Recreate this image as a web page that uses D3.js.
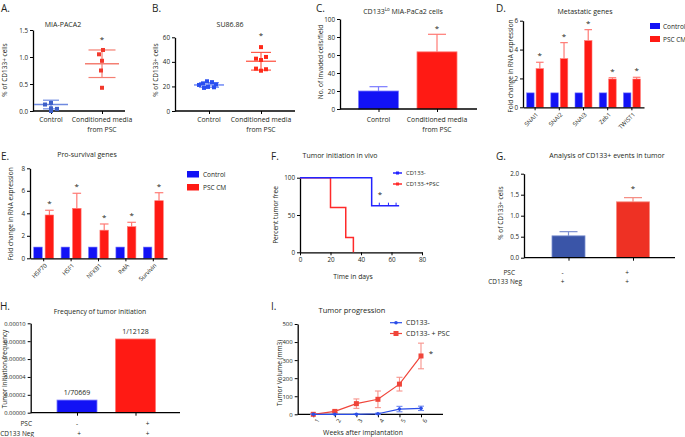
<!DOCTYPE html>
<html><head><meta charset="utf-8">
<script src="https://cdn.jsdelivr.net/npm/d3@7"></script>
<style>body{margin:0;background:#fff}svg text{font-family:'Open Sans',sans-serif}</style>
</head><body><svg id="c" width="685" height="437"></svg>
<script>
// ---------------- DATA ----------------
const scatterGroups = ["Control", "Conditioned media|from PSC"];
const miaControl = [0.15, 0.12, 0.05, 0.04, 0.0];
const miaCM = [1.13, 1.05, 0.93, 0.75, 0.43];
const miaMean = [0.12, 0.875];
const miaSD = [0.08, 0.255];
const miaTicks = [0, 0.5, 1.0, 1.5];
const suControl = [24.2, 23.5, 22.5, 21.6, 21.2, 19.6, 19.3, 18.8];
const suCM = [52, 44, 42.6, 41.5, 34.5, 34, 32.8];
const suMean = [21.2, 40.5];
const suSD = [1.8, 7.2];
const suTicks = [0, 20, 40, 60];
const invGroups = ["Control", "Conditioned media|from PSC"];
const invMean = [20, 63.5];
const invErr = [4.8, 19.5];
const invTicks = [0, 20, 40, 60, 80, 100];
const metaGenes = ["SNAI1", "SNAI2", "SNAI3", "Zeb1", "TWIST1"];
const metaControl = [1, 1, 1, 1, 1];
const metaPSC = [2.68, 3.37, 4.62, 1.96, 1.96];
const metaPSCErr = [0.44, 1.11, 0.76, 0.09, 0.12];
const foldTicksD = [0, 2, 4, 6];
const survGenes = ["HSP70", "HSF1", "NFKB1", "RelA", "Survivin"];
const survControl = [1, 1, 1, 1, 1];
const survPSC = [3.85, 4.44, 2.5, 2.81, 5.12];
const survPSCErr = [0.42, 1.34, 0.55, 0.39, 0.71];
const foldTicksE = [0, 2, 4, 6, 8];
const seriesNames = ["Control", "PSC CM"];
const kmNames = ["CD133-", "CD133-+PSC"];
const kmBlueTimes = [0, 47, 65];
const kmBlueSurv = [100, 62.5, 62.5];
const kmBlueCensor = [52, 58, 63];
const kmRedTimes = [0, 20, 30, 35];
const kmRedSurv = [100, 60, 20, 0];
const kmXTicks = [0, 20, 40, 60, 80];
const kmYTicks = [0, 50, 100];
const gPSC = ["-", "+"];
const gNeg = ["+", "+"];
const gMean = [0.52, 1.33];
const gErr = [0.1, 0.1];
const gTicks = [0, 0.5, 1.0, 1.5, 2.0];
const hPSC = ["-", "+"];
const hNeg = ["+", "+"];
const hLabels = ["1/70669", "1/12128"];
const hValues = [1 / 70669, 1 / 12128];
const hTicks = [0, 0.00002, 0.00004, 0.00006, 0.00008, 0.00010];
const weeks = [1, 2, 3, 4, 5, 6];
const volCD133 = [0, 0, 0, 3, 29, 33];
const volCD133Err = [2, 2, 2, 3, 15, 12];
const volPSC = [0, 16, 59, 83, 167, 323];
const volPSCErr = [5, 6, 26, 46, 38, 71];
const volTicks = [0, 100, 200, 300, 400, 500];
const iNames = ["CD133-", "CD133- + PSC"];

// ---------------- HELPERS ----------------
const svg = d3.select("#c");
const INK = "#231f20";
const BLUE = "#1212f5", RED = "#ff1a14", BLUE_L = "#7b7bff", RED_L = "#ff7a74";
function txt(x, y, s, o = {}) {
  const t = svg.append("text").attr("x", x).attr("y", y).text(s)
    .attr("font-size", o.size || 6.5).attr("text-anchor", o.anchor || "middle")
    .attr("fill", o.fill || INK);
  if (o.rotate) t.attr("transform", `rotate(${o.rotate},${x},${y})`);
  return t;
}
function styleAxis(a, fs) {
  a.select(".domain").attr("stroke", "#000").attr("stroke-width", 1.3);
  a.selectAll(".tick line").attr("stroke", "#000").attr("stroke-width", 1);
  a.selectAll(".tick text").attr("font-size", fs || 6.3).attr("fill", INK).attr("font-family", "'Open Sans',sans-serif");
}
function leftAxis(scale, x, ticks, fmt, fs) {
  const a = svg.append("g").attr("transform", `translate(${x},0)`)
    .call(d3.axisLeft(scale).tickValues(ticks).tickFormat(fmt || d3.format("")).tickSize(3).tickSizeOuter(0).tickPadding(2));
  styleAxis(a, fs);
  return a;
}
function bottomAxis(scale, y, x0, x1) {
  svg.append("line").attr("x1", x0).attr("x2", x1).attr("y1", y).attr("y2", y).attr("stroke", "#000").attr("stroke-width", 1.3);
  const a = svg.append("g").attr("transform", `translate(0,${y})`)
    .call(d3.axisBottom(scale).tickSize(3).tickSizeOuter(0).tickFormat(() => ""));
  styleAxis(a);
  a.select(".domain").remove();
  return a;
}
function panelLetter(x, y, s) { txt(x, y, s, { size: 10, anchor: "start" }); }
function title(x, y, s, size) { return txt(x, y, s, { size: size || 7 }); }
function yLabel(x, y, s, size) { txt(x, y, s, { size: size || 6.5, rotate: -90 }); }
function star(x, y) { txt(x, y, "*", { size: 8 }); }
function twoLine(x, y, s) {
  s.split("|").forEach((p, i) => txt(x, y + i * 10, p, { size: 6.8 }));
}
function errBar(x, yTop, yBase, capW, color, w) {
  svg.append("line").attr("x1", x).attr("x2", x).attr("y1", yTop).attr("y2", yBase).attr("stroke", color).attr("stroke-width", w || 1.2);
  svg.append("line").attr("x1", x - capW / 2).attr("x2", x + capW / 2).attr("y1", yTop).attr("y2", yTop).attr("stroke", color).attr("stroke-width", w || 1.2);
}

// ---------------- A: MIA-PACA2 scatter ----------------
{
  const y = d3.scaleLinear().domain([0, 1.5]).range([111, 30]);
  const x = d3.scalePoint().domain(scatterGroups).range([51, 102]);
  panelLetter(1, 12, "A.");
  title(63, 26.5, "MIA-PACA2");
  yLabel(7, 70, "% of CD133+ cells");
  leftAxis(y, 33, miaTicks, d3.format(".1f"));
  bottomAxis(x, 111, 33, 125);
  scatterGroups.forEach(g => twoLine(x(g), 122, g));
  const jA = [[0, -6, 0, 6, 0], [1, -3, 0, -1, 0]];
  const cols = [["#3e5fc8", "#6f8ae0"], ["#f2392c", "#f47f72"]];
  [miaControl, miaCM].forEach((vals, gi) => {
    const cx = x(scatterGroups[gi]);
    const m = miaMean[gi], s = miaSD[gi];
    const lw = 34, cw = gi ? 27 : 16;
    svg.append("line").attr("x1", cx - lw / 2).attr("x2", cx + lw / 2).attr("y1", y(m)).attr("y2", y(m)).attr("stroke", cols[gi][1]).attr("stroke-width", 1.3);
    svg.append("line").attr("x1", cx).attr("x2", cx).attr("y1", y(m + s)).attr("y2", y(Math.max(0, m - s))).attr("stroke", cols[gi][1]).attr("stroke-width", 1.2);
    [m + s, m - s].forEach(v => svg.append("line").attr("x1", cx - cw / 2).attr("x2", cx + cw / 2).attr("y1", y(v)).attr("y2", y(v)).attr("stroke", cols[gi][1]).attr("stroke-width", 1.2));
    svg.selectAll(null).data(vals).enter().append("rect")
      .attr("x", (d, i) => cx + jA[gi][i] - 2).attr("y", d => y(d) - 2).attr("width", 4).attr("height", 4)
      .attr("fill", cols[gi][0]);
  });
  star(x(scatterGroups[1]), 42);
}

// ---------------- B: SU86.86 scatter ----------------
{
  const y = d3.scaleLinear().domain([0, 60]).range([111, 37.3]);
  const x = d3.scalePoint().domain(scatterGroups).range([209, 261]);
  panelLetter(152, 12, "B.");
  title(230, 26.5, "SU86.86");
  yLabel(158, 70, "% of CD133+ cells");
  leftAxis(y, 175, suTicks, d3.format("d"));
  bottomAxis(x, 111, 175, 295);
  scatterGroups.forEach(g => twoLine(x(g), 122, g));
  const jB = [[-2, 3, -6, 7, -10, -1, 5, -5], [0, 5, -5, 0, -5, 5, 0]];
  const cols = [["#2a4ff0", "#5a78f5"], ["#ff2a1a", "#ff5a4a"]];
  [suControl, suCM].forEach((vals, gi) => {
    const cx = x(scatterGroups[gi]);
    const m = suMean[gi], s = suSD[gi];
    const lw = 30, cw = 20;
    svg.append("line").attr("x1", cx - lw / 2).attr("x2", cx + lw / 2).attr("y1", y(m)).attr("y2", y(m)).attr("stroke", cols[gi][1]).attr("stroke-width", 1.3);
    svg.append("line").attr("x1", cx).attr("x2", cx).attr("y1", y(m + s)).attr("y2", y(m - s)).attr("stroke", cols[gi][1]).attr("stroke-width", 1.2);
    [m + s, m - s].forEach(v => svg.append("line").attr("x1", cx - cw / 2).attr("x2", cx + cw / 2).attr("y1", y(v)).attr("y2", y(v)).attr("stroke", cols[gi][1]).attr("stroke-width", 1.2));
    svg.selectAll(null).data(vals).enter().append("rect")
      .attr("x", (d, i) => cx + jB[gi][i] - 2).attr("y", d => y(d) - 2).attr("width", 4).attr("height", 4)
      .attr("fill", cols[gi][0]);
  });
  star(x(scatterGroups[1]), 38);
}

// ---------------- C: invasion bars ----------------
{
  const y = d3.scaleLinear().domain([0, 100]).range([109, 19]);
  const x = d3.scalePoint().domain(invGroups).range([378.5, 437]);
  panelLetter(316, 12, "C.");
  const t = title(403, 13.5, "CD133");
  t.append("tspan").text("Lo").attr("font-size", 4.5).attr("dy", -2.5);
  t.append("tspan").text(" MIA-PaCa2 cells").attr("dy", 2.5);
  yLabel(323, 62, "No. of invaded cells/field");
  leftAxis(y, 340, invTicks, d3.format("d"));
  const fills = [[BLUE, BLUE_L], [RED, RED_L]];
  invGroups.forEach((g, i) => {
    errBar(x(g), y(invMean[i] + invErr[i]), y(invMean[i]), 18, fills[i][1], 1.2);
    svg.append("rect").attr("x", x(g) - 20).attr("y", y(invMean[i])).attr("width", 40).attr("height", y(0) - y(invMean[i]))
      .attr("fill", fills[i][0]).attr("stroke", fills[i][1]).attr("stroke-width", 0.8);
  });
  bottomAxis(x, 109, 340, 477);
  invGroups.forEach(g => twoLine(x(g), 122, g));
  star(x(invGroups[1]), 31);
}

// ---------------- grouped bar helper ----------------
function groupedBars(cfg) {
  const y = d3.scaleLinear().domain(cfg.domain).range(cfg.yRange);
  const x = d3.scaleBand().domain(cfg.cats).range(cfg.xRange);
  const xs = d3.scaleBand().domain(seriesNames).range(cfg.sub).paddingInner(cfg.pad);
  leftAxis(y, cfg.xRange[0], cfg.ticks, d3.format("d"));
  cfg.cats.forEach((c, i) => {
    const cx = x(c) + x.bandwidth() / 2;
    const top = cfg.psc[i] + cfg.err[i];
    const rx = cx + xs("PSC CM");
    errBar(rx + xs.bandwidth() / 2, y(top), y(cfg.psc[i]), xs.bandwidth(), RED_L, 1.2);
    svg.append("rect").attr("x", cx + xs("Control")).attr("y", y(cfg.ctrl[i])).attr("width", xs.bandwidth()).attr("height", y(0) - y(cfg.ctrl[i]))
      .attr("fill", BLUE).attr("stroke", BLUE_L).attr("stroke-width", 0.6);
    svg.append("rect").attr("x", rx).attr("y", y(cfg.psc[i])).attr("width", xs.bandwidth()).attr("height", y(0) - y(cfg.psc[i]))
      .attr("fill", RED).attr("stroke", RED_L).attr("stroke-width", 0.6);
    star(rx + xs.bandwidth() / 2, y(top) - 4);
  });
  const ax = svg.append("g").attr("transform", `translate(0,${cfg.yRange[0]})`)
    .call(d3.axisBottom(x).tickSize(3).tickSizeOuter(0).tickPadding(2));
  styleAxis(ax, 6);
  ax.select(".domain").attr("stroke-width", 1.3);
  ax.selectAll(".tick text").attr("text-anchor", "end").attr("transform", "translate(-2,2) rotate(-45)").attr("dy", "0.5em");
}

// ---------------- D: Metastatic genes ----------------
panelLetter(496, 12, "D.");
title(585, 13.5, "Metastatic genes");
yLabel(513, 66, "Fold change in RNA expression");
groupedBars({ domain: [0, 6], yRange: [107.3, 20.7], xRange: [523, 644], cats: metaGenes, sub: [-8.5, 8.5], pad: 0.2,
  ticks: foldTicksD, ctrl: metaControl, psc: metaPSC, err: metaPSCErr });
[[BLUE, 23], [RED, 36]].forEach(([c, yy], i) => {
  svg.append("rect").attr("x", 650).attr("y", yy).attr("width", 10).attr("height", 6).attr("fill", c);
  txt(663, yy + 5.5, seriesNames[i], { anchor: "start", size: 6.5 });
});

// ---------------- E: Pro-survival genes ----------------
panelLetter(1, 160, "E.");
title(87, 157, "Pro-survival genes");
yLabel(13, 214, "Fold change in RNA expression");
groupedBars({ domain: [0, 8], yRange: [258.3, 168.3], xRange: [30, 167], cats: survGenes, sub: [-10, 10], pad: 0.25,
  ticks: foldTicksE, ctrl: survControl, psc: survPSC, err: survPSCErr });
[[BLUE, 171], [RED, 184]].forEach(([c, yy], i) => {
  svg.append("rect").attr("x", 187).attr("y", yy).attr("width", 12).attr("height", 6.5).attr("fill", c);
  txt(203, yy + 6, seriesNames[i], { anchor: "start", size: 6.5 });
});

// ---------------- F: Kaplan-Meier ----------------
{
  const x = d3.scaleLinear().domain([0, 80]).range([300, 422]);
  const y = d3.scaleLinear().domain([0, 100]).range([252.3, 177.7]);
  panelLetter(271, 160, "F.");
  title(340, 157.5, "Tumor initiation in vivo");
  yLabel(278, 215, "Percent tumor free");
  leftAxis(y, 300, kmYTicks, d3.format("d"));
  const ax = svg.append("g").attr("transform", "translate(0,252.3)")
    .call(d3.axisBottom(x).tickValues(kmXTicks).tickSize(3).tickSizeOuter(0).tickPadding(2));
  styleAxis(ax);
  txt(353, 279, "Time in days", { size: 6.8 });
  const line = d3.line().curve(d3.curveStepAfter).x(d => x(d[0])).y(d => y(d[1]));
  svg.append("path").attr("d", line(kmRedTimes.map((t, i) => [t, kmRedSurv[i]]))).attr("fill", "none").attr("stroke", "#ff2a2a").attr("stroke-width", 1.5);
  svg.append("path").attr("d", line(kmBlueTimes.map((t, i) => [t, kmBlueSurv[i]]))).attr("fill", "none").attr("stroke", "#2323ff").attr("stroke-width", 1.5);
  kmBlueCensor.forEach(t => svg.append("line").attr("x1", x(t)).attr("x2", x(t)).attr("y1", y(62.5) - 3).attr("y2", y(62.5)).attr("stroke", "#2323ff").attr("stroke-width", 1));
  star(380, 197);
  [["#2323ff", 173], ["#ff2a2a", 184]].forEach(([c, yy], i) => {
    svg.append("line").attr("x1", 393).attr("x2", 402).attr("y1", yy).attr("y2", yy).attr("stroke", c).attr("stroke-width", 1.5);
    svg.append("rect").attr("x", 396).attr("y", yy - 1.5).attr("width", 3).attr("height", 3).attr("fill", c);
    txt(406, yy + 2, kmNames[i], { anchor: "start", size: 5.8 });
  });
}

// ---------------- G: CD133+ events ----------------
{
  const y = d3.scaleLinear().domain([0, 2]).range([257.7, 173.7]);
  const x = d3.scalePoint().domain([0, 1]).range([568.5, 633]);
  panelLetter(496, 160, "G.");
  title(607, 157.5, "Analysis of CD133+ events in tumor");
  yLabel(503, 213, "% of CD133+ cells");
  leftAxis(y, 524, gTicks, d3.format(".1f"));
  const cols = [["#3a55a8", "#7c8fd0"], ["#ee3124", "#f58a80"]];
  gMean.forEach((m, i) => {
    errBar(x(i), y(m + gErr[i]), y(m), 18, cols[i][1], 1.2);
    svg.append("rect").attr("x", x(i) - 16.5).attr("y", y(m)).attr("width", 33).attr("height", y(0) - y(m))
      .attr("fill", cols[i][0]).attr("stroke", cols[i][1]).attr("stroke-width", 0.8);
  });
  bottomAxis(x, 257.7, 524, 675);
  star(x(1), 191);
  txt(515, 274.5, "PSC", { anchor: "end", size: 6.5 });
  txt(522, 283.5, "CD133 Neg", { anchor: "end", size: 6.5 });
  gPSC.forEach((s, i) => txt(x(i) - 6, 274.5, s, { size: 6.5 }));
  gNeg.forEach((s, i) => txt(x(i) - 6, 283.5, s, { size: 6.5 }));
}

// ---------------- H: Tumor initiation frequency ----------------
{
  const y = d3.scaleLinear().domain([0, 0.0001]).range([412.7, 323.3]);
  const x = d3.scalePoint().domain([0, 1]).range([77, 135.5]);
  panelLetter(0, 310, "H.");
  title(100, 313.5, "Frequency of tumor initiation", 6.8);
  yLabel(7, 369, "Tumor Initiation frequency", 6.3);
  leftAxis(y, 30.7, hTicks, d3.format(".5f"), 5.8);
  const cols = [[BLUE, BLUE_L], [RED, RED_L]];
  hValues.forEach((v, i) => {
    svg.append("rect").attr("x", x(i) - 20).attr("y", y(v)).attr("width", 40).attr("height", y(0) - y(v))
      .attr("fill", cols[i][0]).attr("stroke", cols[i][1]).attr("stroke-width", 0.8);
    txt(x(i), y(v) - 5, hLabels[i], { size: 7 });
  });
  bottomAxis(x, 412.7, 30.7, 180);
  txt(32, 426, "PSC", { anchor: "end", size: 6.5 });
  txt(34, 435.5, "CD133 Neg", { anchor: "end", size: 6.5 });
  hPSC.forEach((s, i) => txt(x(i) + (i ? 12 : 0), 426, s, { size: 6.5 }));
  hNeg.forEach((s, i) => txt(x(i) + (i ? 12 : 2), 435.5, s, { size: 6.5 }));
}

// ---------------- I: Tumor progression ----------------
{
  const x = d3.scaleLinear().domain([1, 6]).range([313.3, 421]);
  const y = d3.scaleLinear().domain([0, 500]).range([414.3, 324]);
  panelLetter(271, 310, "I.");
  title(352, 313, "Tumor progression", 7.5);
  yLabel(282, 373, "Tumor Volume (mm3)", 6.5);
  leftAxis(y, 297.7, volTicks, d3.format("d"), 6);
  svg.append("line").attr("x1", 297.7).attr("x2", 443).attr("y1", 414.3).attr("y2", 414.3).attr("stroke", "#000").attr("stroke-width", 1.3);
  const ax = svg.append("g").attr("transform", "translate(0,414.3)")
    .call(d3.axisBottom(x).tickValues(weeks).tickFormat(d3.format("d")).tickSize(3).tickSizeOuter(0).tickPadding(2));
  styleAxis(ax, 6);
  ax.select(".domain").remove();
  ax.selectAll(".tick text").attr("text-anchor", "end").attr("transform", "translate(-1,2) rotate(-60)").attr("dy", "0.5em");
  txt(363, 435, "Weeks after implantation", { size: 6.8 });
  const series = [
    { v: volPSC, e: volPSCErr, c: "#f0453a", cl: "#f7938b", m: "sq" },
    { v: volCD133, e: volCD133Err, c: "#2a4de8", cl: "#6f88f0", m: "ci" }];
  const line = d3.line().x((d, i) => x(weeks[i])).y(d => y(d));
  series.forEach(s => {
    s.v.forEach((v, i) => errBar(x(weeks[i]), y(v + s.e[i]), y(Math.max(0, v - s.e[i])), 6, s.cl, 1.1));
    s.v.forEach((v, i) => svg.append("line").attr("x1", x(weeks[i]) - 3).attr("x2", x(weeks[i]) + 3).attr("y1", y(Math.max(0, v - s.e[i]))).attr("y2", y(Math.max(0, v - s.e[i]))).attr("stroke", s.cl).attr("stroke-width", 1.1));
    svg.append("path").attr("d", line(s.v)).attr("fill", "none").attr("stroke", s.c).attr("stroke-width", 1.2);
    s.v.forEach((v, i) => {
      if (s.m === "sq") svg.append("rect").attr("x", x(weeks[i]) - 2.5).attr("y", y(v) - 2.5).attr("width", 5).attr("height", 5).attr("fill", s.c);
      else svg.append("circle").attr("cx", x(weeks[i])).attr("cy", y(v)).attr("r", 1.8).attr("fill", s.c);
    });
  });
  star(431, 356);
  [["#2a4de8", 322.7, "ci"], ["#f0453a", 333.5, "sq"]].forEach(([c, yy, m], i) => {
    svg.append("line").attr("x1", 390).attr("x2", 402).attr("y1", yy).attr("y2", yy).attr("stroke", c).attr("stroke-width", 1.2);
    if (m === "sq") svg.append("rect").attr("x", 393.5).attr("y", yy - 2.5).attr("width", 5).attr("height", 5).attr("fill", c);
    else svg.append("circle").attr("cx", 396).attr("cy", yy).attr("r", 1.8).attr("fill", c);
    txt(406, yy + 2.5, iNames[i], { anchor: "start", size: 7 });
  });
}
</script></body></html>
